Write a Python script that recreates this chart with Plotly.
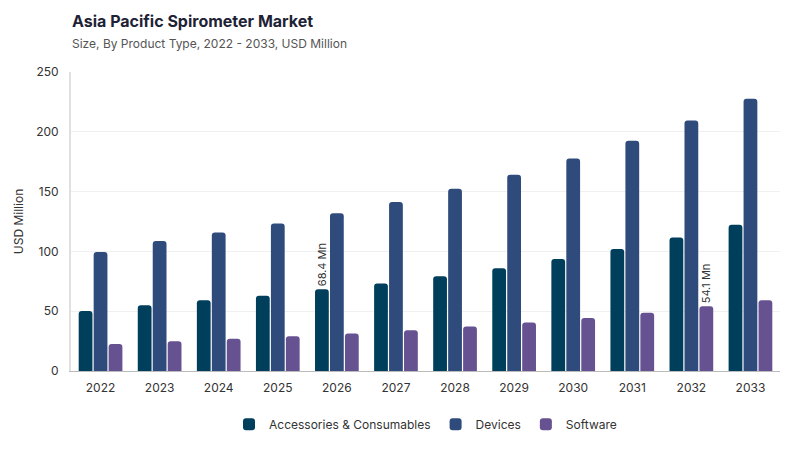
import plotly.graph_objects as go

years = ["2022", "2023", "2024", "2025", "2026", "2027", "2028", "2029", "2030", "2031", "2032", "2033"]
accessories = [50.2, 55.0, 59.2, 63.0, 68.4, 73.2, 79.3, 86.0, 93.7, 102.0, 111.6, 122.2]
devices = [99.4, 108.8, 115.7, 123.4, 132.0, 141.4, 152.3, 164.0, 177.6, 192.6, 209.4, 227.6]
software = [22.6, 24.9, 27.0, 29.1, 31.3, 34.1, 37.2, 40.5, 44.3, 48.8, 54.1, 59.2]

# only two bars carry a value label
acc_text = [f"{v} Mn" if y == "2026" else "" for y, v in zip(years, accessories)]
soft_text = [f"{v} Mn" if y == "2032" else "" for y, v in zip(years, software)]

fig = go.Figure()
fig.add_trace(go.Bar(name="Accessories & Consumables", x=years, y=accessories,
                     marker_color="#003f5c", text=acc_text))
fig.add_trace(go.Bar(name="Devices", x=years, y=devices, marker_color="#2f4b7c"))
fig.add_trace(go.Bar(name="Software", x=years, y=software,
                     marker_color="#665191", text=soft_text))

fig.update_traces(
    marker_cornerradius=3,
    marker_line_width=0,
    textposition="outside",
    textangle=-90,
    constraintext="none",
    cliponaxis=False,
    textfont=dict(size=11, color="#333333"),
)

# page has an 8px body margin, margins below account for it
fig.update_layout(
    width=800,
    height=450,
    barmode="group",
    bargap=0.24,
    bargroupgap=0.08,
    paper_bgcolor="white",
    plot_bgcolor="white",
    font=dict(family="Inter, Lato, sans-serif", color="#444444", size=12),
    margin=dict(l=63, r=28, t=64, b=87, autoexpand=False),
    title=dict(
        text="<b>Asia Pacific Spirometer Market</b><br>"
             "<span style='font-size:12px;color:#555555'>Size, By Product Type, 2022 - 2033, USD Million</span>",
        x=0.08, xanchor="left", y=0.958, yanchor="top",
        font=dict(size=16, color="#1e2235"),
    ),
    legend=dict(orientation="h", x=0.5, xanchor="center", y=-0.13, yanchor="top",
                font=dict(size=12, color="#333333"), itemwidth=30),
    showlegend=True,
)

fig.update_xaxes(showline=True, linecolor="#bbbbbb", linewidth=1, ticks="",
                 ticklabelstandoff=6, tickfont=dict(size=12, color="#333333"))
fig.update_yaxes(range=[0, 250], dtick=50, showgrid=True, gridcolor="#f0f0f0",
                 showline=True, linecolor="#e0e0e0", linewidth=2, zeroline=False,
                 ticklabelstandoff=8,
                 title=dict(text="USD Million", font=dict(size=12, color="#333333"), standoff=10),
                 tickfont=dict(size=12, color="#333333"))

fig.write_html("out.html")
